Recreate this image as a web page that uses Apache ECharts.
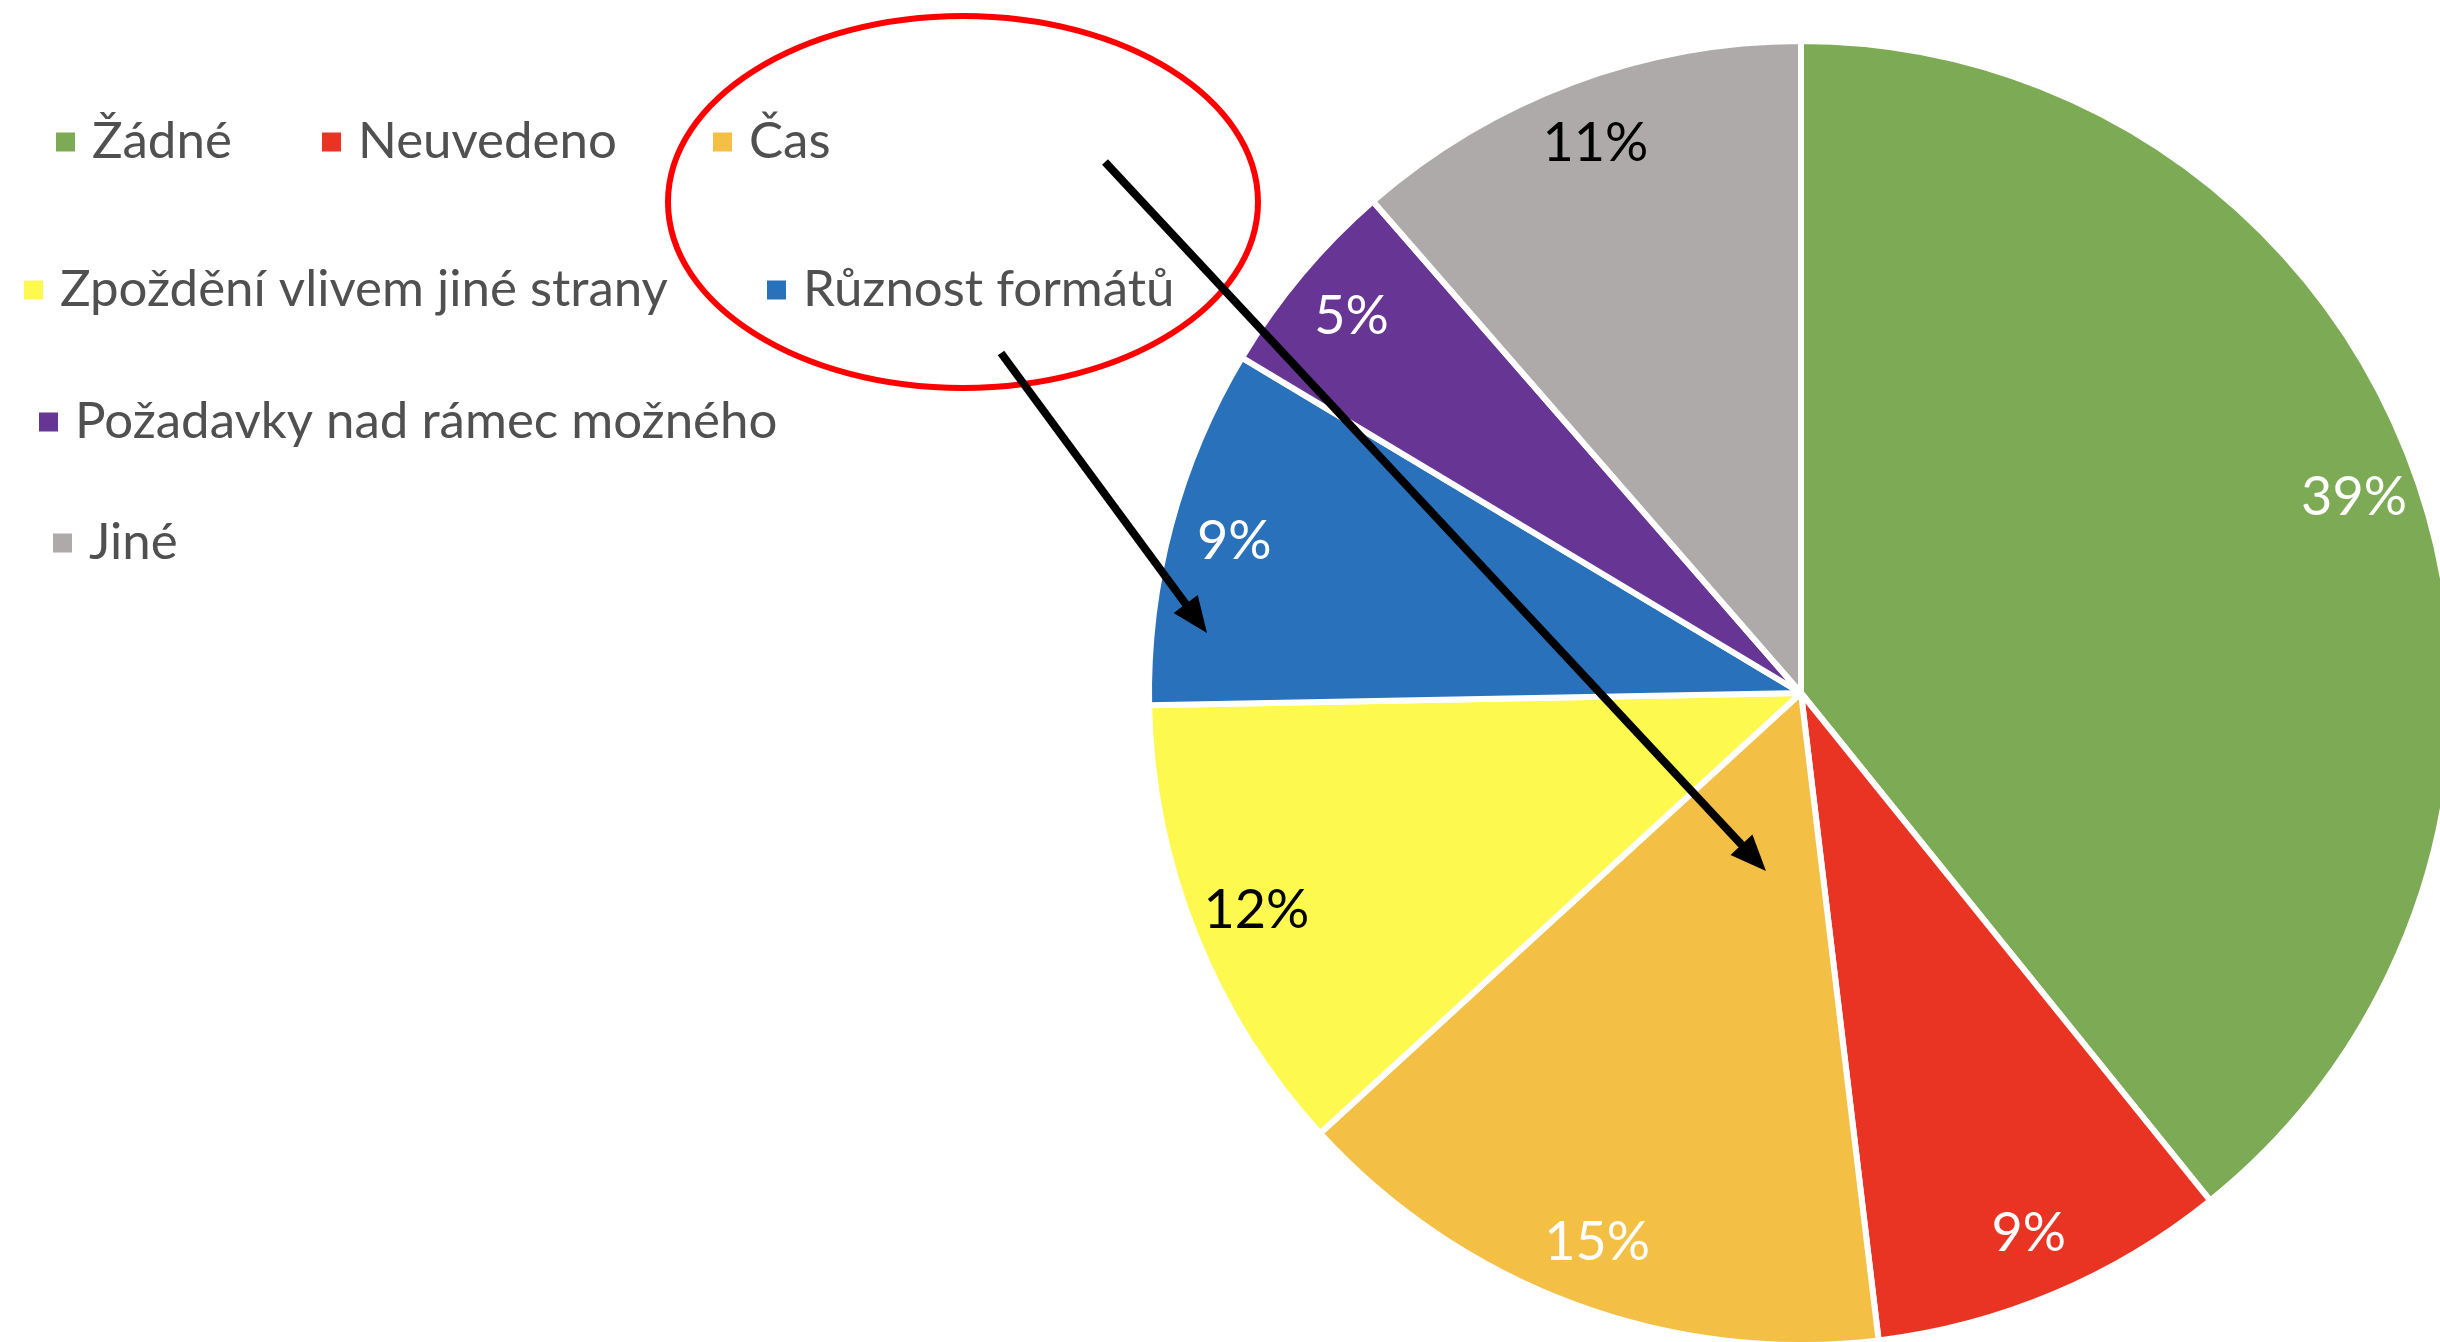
<!DOCTYPE html>
<html>
<head>
<meta charset="utf-8">
<script src="https://cdn.jsdelivr.net/npm/echarts@6/dist/echarts.min.js"></script>
<style>
html,body{margin:0;padding:0;background:#fff;}
#chart{width:2440px;height:1342px;}
</style>
</head>
<body>
<div id="chart"></div>
<script>
// ---- data ----
const categories = ['Žádné', 'Neuvedeno', 'Čas', 'Zpoždění vlivem jiné strany', 'Různost formátů', 'Požadavky nad rámec možného', 'Jiné'];
const values = [39.2, 8.9, 15.1, 11.5, 8.9, 5.0, 11.4];

// ---- styles ----
const colors = ['#7CAA55', '#E93323', '#F4BF45', '#FEF94F', '#2A71BB', '#673695', '#ADAAA9'];
const labelColors = ['#ffffff', '#ffffff', '#ffffff', '#000000', '#ffffff', '#ffffff', '#000000'];
const FONT = 'Lato';
const LEG_FS = 51;
const LAB_FS = 54;

// legend item placement (icon left x, row centre y)
const legendPos = [[51, 137], [317, 137], [708, 137], [19, 285], [762, 285], [34, 417], [48, 538]];

const chart = echarts.init(document.getElementById('chart'));

const legends = categories.map((name, i) => ({
  show: true,
  data: [name],
  left: legendPos[i][0],
  top: legendPos[i][1] - 30,
  orient: 'horizontal',
  icon: 'rect',
  itemWidth: 19,
  itemHeight: 19,
  selectedMode: false,
  itemStyle: { borderWidth: 0 },
  textStyle: { fontFamily: FONT, fontSize: LEG_FS, color: '#505050', lineHeight: 60, padding: [0, 0, 0, 12] }
}));

const pieData = categories.map((name, i) => ({
  name, value: values[i], itemStyle: { color: colors[i] }
}));
const labelData = categories.map((name, i) => ({
  name, value: values[i],
  label: { color: labelColors[i] }
}));

const CX = 1801, CY = 693, R = 652;

// annotation arrows
function arrow(x1, y1, x2, y2) {
  const dx = x2 - x1, dy = y2 - y1, L = Math.hypot(dx, dy);
  const ux = dx / L, uy = dy / L, nx = -uy, ny = ux;
  const hl = 36, hw = 15;
  const bx = x2 - ux * hl, by = y2 - uy * hl;
  return [
    { type: 'line', z: 100, shape: { x1, y1, x2: bx + ux * 4, y2: by + uy * 4 }, style: { stroke: '#000', lineWidth: 8 } },
    { type: 'polygon', z: 100, shape: { points: [[x2, y2], [bx + nx * hw, by + ny * hw], [bx - nx * hw, by - ny * hw]] }, style: { fill: '#000' } }
  ];
}

const option = {
  backgroundColor: '#ffffff',
  animation: false,
  legend: legends,
  series: [
    {
      type: 'pie',
      center: [CX, CY],
      radius: [0, R],
      startAngle: 90,
      clockwise: true,
      silent: true,
      data: pieData,
      label: { show: false },
      labelLine: { show: false },
      itemStyle: { borderColor: '#ffffff', borderWidth: 6 }
    },
    {
      type: 'pie',
      center: [CX, CY],
      radius: [Math.round(R * 0.79), R],
      startAngle: 90,
      clockwise: true,
      silent: true,
      data: labelData,
      itemStyle: { color: 'rgba(0,0,0,0)', borderWidth: 0 },
      label: {
        show: true,
        position: 'inside',
        fontFamily: FONT,
        fontSize: LAB_FS,
        formatter: p => Math.round(p.value) + '%'
      },
      labelLine: { show: false }
    }
  ],
  graphic: [
    { type: 'ellipse', z: 100, shape: { cx: 963, cy: 202, rx: 295, ry: 186 }, style: { fill: 'none', stroke: '#FF0000', lineWidth: 6 } },
    ...arrow(1105, 162, 1766, 871),
    ...arrow(1001, 353, 1207, 633)
  ]
};
chart.setOption(option);
</script>
</body>
</html>
